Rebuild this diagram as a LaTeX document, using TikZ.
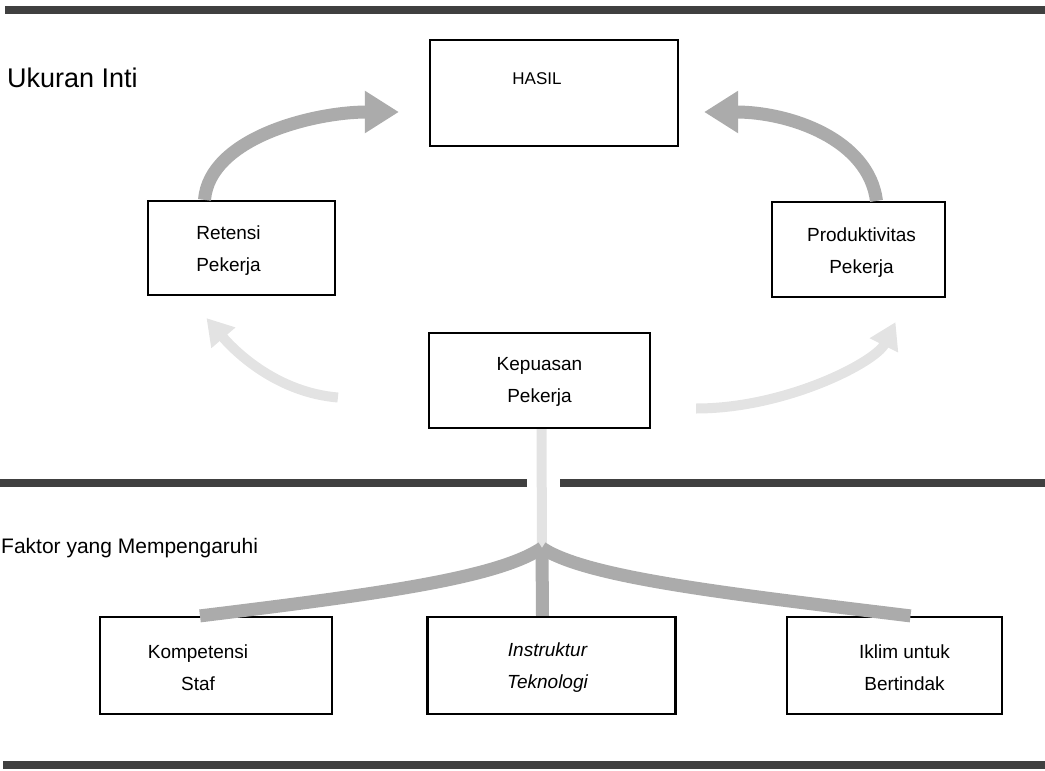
\documentclass[tikz,border=0pt]{standalone}
\usepackage{fontspec}
\setmainfont{Liberation Sans}
\usetikzlibrary{arrows.meta}
\begin{document}
\begin{tikzpicture}[x=1pt,y=-1pt,
  box/.style={draw=black, line width=2.2pt, inner sep=0pt},
  boxtext/.style={align=center, inner sep=0pt, font=\fontsize{19}{32}\selectfont},
  heading/.style={anchor=west, inner sep=0pt},
  rule/.style={draw=black!75, line width=8.5pt},
  flow/.style={draw=black!33, line width=13pt,
    -{Triangle[length=34pt,width=40pt]}},
  faintflow/.style={draw=black!11, line width=10pt,
    -{Triangle[length=26pt,width=30pt]}},
  branch/.style={draw=black!33, line width=13pt},
  faintstem/.style={draw=black!11, line width=10pt}]
\useasboundingbox (0,0) rectangle (1045,771);

% horizontal rules separating the two sections
\draw[rule] (5,10) -- (1045,10);
\draw[rule] (0,483) -- (527,483);
\draw[rule] (560,483) -- (1045,483);
\draw[rule] (3,765) -- (1045,765);

% section headings
\node[heading, font=\fontsize{27}{32}\selectfont] (ukuran) at (7,78) {Ukuran Inti};
\node[heading, font=\fontsize{21}{26}\selectfont] (faktor) at (1,548) {Faktor yang Mempengaruhi};

% core measures
\node[box, minimum width=248, minimum height=106] (hasil) at (554,93) {};
\node[boxtext, font=\fontsize{17}{22}\selectfont] (hasiltxt) at (537,79) {HASIL};

\node[box, minimum width=187, minimum height=94] (ret) at (241.5,248) {};
\node[boxtext] (rettxt) at ([xshift=-13pt,yshift=-3pt]ret.center) {Retensi\\Pekerja};

\node[box, minimum width=173, minimum height=95] (prod) at (858.5,249.5) {};
\node[boxtext] (prodtxt) at ([xshift=3pt,yshift=-3pt]prod.center) {Produktivitas\\Pekerja};

\node[box, minimum width=221, minimum height=95] (kep) at (539.5,380.5) {};
\node[boxtext] (keptxt) at ([yshift=-1pt]kep.center) {Kepuasan\\Pekerja};

% influencing factors
\node[box, minimum width=232, minimum height=97] (komp) at (216,665.5) {};
\node[boxtext] (komptxt) at ([xshift=-18pt,yshift=-2pt]komp.center) {Kompetensi\\Staf};

\node[box, minimum width=248, minimum height=97] (inst) at (551.5,665.5) {};
\node[boxtext, font=\fontsize{19}{32}\itshape] (insttxt) at ([xshift=-4pt,yshift=-2pt]inst.center) {Instruktur\\Teknologi};

\node[box, minimum width=215, minimum height=97] (iklim) at (894.5,665.5) {};
\node[boxtext] (iklimtxt) at ([xshift=10pt,yshift=-2pt]iklim.center) {Iklim untuk\\Bertindak};

% links between the core measures
\draw[flow] ([xshift=-37pt]ret.north) .. controls +(5,-62) and +(-85,0) ..
  ([xshift=-30pt,yshift=-19pt]hasil.west);
\draw[flow] ([xshift=18pt]prod.north) .. controls +(-8,-62) and +(85,0) ..
  ([xshift=25pt,yshift=-19pt]hasil.east);
\draw[faintflow] ([xshift=-90pt,yshift=-17pt]kep.west) .. controls +(-60,-5) and +(30,35) ..
  ([xshift=-35pt,yshift=-22pt]ret.south);
\draw[faintflow] ([xshift=45pt,yshift=-28pt]kep.east) .. controls +(90,0) and +(-20,40) ..
  ([xshift=37pt,yshift=-24pt]prod.south);

% factors converging on satisfaction
\coordinate (jn) at (542,548);
\draw[faintstem] (jn) -- ([xshift=2pt]kep.south);
\draw[branch] ([xshift=-16pt]komp.north) .. controls +(180,-22) and +(-45,30) .. (jn);
\draw[branch] ([xshift=16pt]iklim.north) .. controls +(-180,-22) and +(45,30) .. (jn);
\draw[branch] ([xshift=-9pt]inst.north) -- (jn);
\end{tikzpicture}
\end{document}
